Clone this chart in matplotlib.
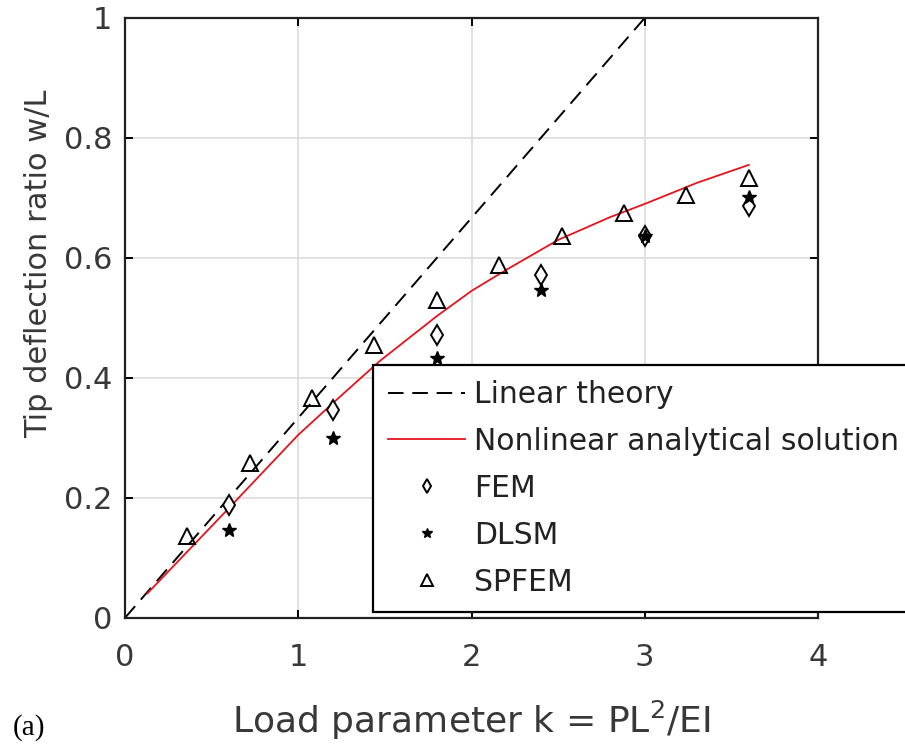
import numpy as np
import matplotlib.pyplot as plt

# Linear theory
k_lin = [0, 3]
w_lin = [0, 1]

# Nonlinear analytical solution
k_nl = [0.13, 0.6, 1.0, 1.2, 1.47, 1.8, 2.0, 2.2, 2.5, 2.8, 3.0, 3.3, 3.6]
w_nl = [0.041, 0.183, 0.305, 0.358, 0.428, 0.503, 0.545, 0.58, 0.63, 0.668, 0.69, 0.725, 0.755]

# FEM
k_fem = [0.6, 1.2, 1.8, 2.4, 3.0, 3.6]
w_fem = [0.188, 0.347, 0.472, 0.572, 0.636, 0.686]

# DLSM
k_dlsm = [0.6, 1.2, 1.8, 2.4, 3.0, 3.6]
w_dlsm = [0.147, 0.300, 0.433, 0.547, 0.636, 0.702]

# SPFEM
k_sp = [0.36, 0.72, 1.08, 1.44, 1.8, 2.16, 2.52, 2.88, 3.24, 3.6]
w_sp = [0.136, 0.258, 0.366, 0.455, 0.53, 0.588, 0.636, 0.675, 0.705, 0.733]

xticks = [0, 1, 2, 3, 4]
yticks = [0, 0.2, 0.4, 0.6, 0.8, 1]
yticklabels = ['0', '0.2', '0.4', '0.6', '0.8', '1']

txt = '#383838'
plt.rcParams['font.family'] = 'DejaVu Sans'

fig = plt.figure(figsize=(9.05, 7.45), dpi=100)
ax = fig.add_axes([0.138, 0.1705, 0.766, 0.8055])

ax.plot(k_lin, w_lin, color='k', lw=1.4, dashes=(8, 4.5), label='Linear theory')
ax.plot(k_nl, w_nl, color='#e3141c', lw=1.3, label='Nonlinear analytical solution')
ax.plot(k_fem, w_fem, ls='none', marker='d', ms=10, mfc='white', mec='k', mew=1.4,
        label='FEM')
ax.plot(k_dlsm, w_dlsm, ls='none', marker='*', ms=10, mfc='k', mec='k', mew=1.0,
        label='DLSM')
ax.plot(k_sp, w_sp, ls='none', marker='^', ms=11, mfc='none', mec='k', mew=1.4,
        label='SPFEM')

ax.set_xlim(0, 4)
ax.set_ylim(0, 1)
ax.set_xticks(xticks)
ax.set_yticks(yticks)
ax.set_yticklabels(yticklabels)
ax.grid(True, color='#dcdcdc', lw=1.2)
ax.set_axisbelow(True)
for s in ax.spines.values():
    s.set_linewidth(1.6)
    s.set_color('#222222')
ax.tick_params(direction='in', length=6, width=1.4, top=True, right=True,
               labelsize=22, labelcolor=txt)
ax.tick_params(axis='x', pad=18)
ax.tick_params(axis='y', pad=9)

ax.set_xlabel('Load parameter k = PL$^2$/EI', fontsize=26, color=txt, labelpad=19)
ax.set_ylabel('Tip deflection ratio w/L', fontsize=22, color=txt)
ax.yaxis.set_label_coords(-0.104, 0.59)

leg = ax.legend(loc='upper left', bbox_to_anchor=(0.412, 0.510),
                bbox_transform=fig.transFigure, fontsize=21.5, frameon=True,
                fancybox=False, framealpha=1, edgecolor='k', handlelength=2.6,
                handletextpad=0.3, labelspacing=0.6, borderpad=0.5,
                borderaxespad=0, markerscale=0.75)
leg.get_frame().set_linewidth(1.6)
for t in leg.get_texts():
    t.set_color('#222222')

fig.text(0.032, 0.024, '(a)', fontsize=21, family='Liberation Serif',
         ha='center', va='center')

fig.savefig('out.png', dpi=100)
